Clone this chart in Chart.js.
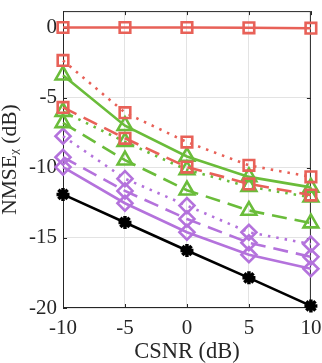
<!DOCTYPE html>
<html><head><meta charset="utf-8">
<script src="https://cdn.jsdelivr.net/npm/chart.js@4.4.1/dist/chart.umd.min.js"></script>
<style>html,body{margin:0;padding:0;background:#fff}</style>
</head><body>
<canvas id="c" width="322" height="363"></canvas>
<script>
// ---- data ----
const csnr = [-10, -5, 0, 5, 10];
const xTicks = [-10, -5, 0, 5, 10];
const yTicks = [-20, -15, -10, -5, 0];
const redSolid     = [0, 0, 0, -0.02, -0.05];
const redDotted    = [-2.35, -6.07, -8.17, -9.83, -10.65];
const redDashed    = [-5.7, -7.9, -9.95, -11.15, -11.95];
const greenSolid   = [-3.4, -7.0, -9.2, -10.65, -11.4];
const greenDotted  = [-6.0, -8.15, -10.15, -11.35, -12.1];
const greenDashed  = [-6.8, -9.46, -11.6, -13.05, -13.95];
const purpleDotted = [-7.75, -10.78, -12.7, -14.6, -15.45];
const purpleDashed = [-9.25, -11.65, -13.65, -15.35, -16.35];
const purpleSolid  = [-9.95, -12.53, -14.6, -16.2, -17.2];
const blackSolid   = [-11.9, -13.9, -15.9, -17.85, -19.85];

const RED = 'rgb(232,97,88)', GREEN = 'rgb(106,188,58)', PURPLE = 'rgb(180,114,220)', BLACK = '#000';
const DOT = [2.5, 6], DASH = [15, 8];
const FONT = "'Liberation Serif','DejaVu Serif',serif";

function ds(label, vals, color, dash, style, r) {
  return {
    label, data: csnr.map((x, i) => ({x, y: vals[i]})),
    borderColor: color, backgroundColor: style === 'star' ? color : 'rgba(0,0,0,0)',
    borderWidth: 2.6, borderDash: dash, pointStyle: style, pointRadius: r,
    pointBorderWidth: style === 'star' ? 3.5 : 2.6, pointBorderColor: color,
    pointBackgroundColor: 'rgba(0,0,0,0)', tension: 0, clip: false, fill: false
  };
}

const datasets = [
  ds('red solid', redSolid, RED, [], 'rect', 7.5),
  ds('red dotted', redDotted, RED, DOT, 'rect', 7.5),
  ds('red dashed', redDashed, RED, DASH, 'rect', 7.5),
  ds('green solid', greenSolid, GREEN, [], 'triangle', 8.5),
  ds('green dotted', greenDotted, GREEN, DOT, 'triangle', 8.5),
  ds('green dashed', greenDashed, GREEN, DASH, 'triangle', 8.5),
  ds('purple dotted', purpleDotted, PURPLE, DOT, 'rectRot', 7.5),
  ds('purple dashed', purpleDashed, PURPLE, DASH, 'rectRot', 7.5),
  ds('purple solid', purpleSolid, PURPLE, [], 'rectRot', 7.5),
  ds('black solid', blackSolid, BLACK, [], 'star', 6.5)
];

const boxPlugin = {
  id: 'box',
  beforeDatasetsDraw(chart) {
    const {ctx, chartArea: a, scales} = chart;
    ctx.save();
    ctx.strokeStyle = '#262626'; ctx.lineWidth = 1;
    ctx.strokeRect(a.left + 0.5, a.top + 0.5, a.right - a.left - 1, a.bottom - a.top - 1);
    ctx.beginPath();
    xTicks.forEach(v => {
      const px = Math.round(scales.x.getPixelForValue(v)) + 0.5;
      ctx.moveTo(px, a.bottom); ctx.lineTo(px, a.bottom - 4);
      ctx.moveTo(px, a.top); ctx.lineTo(px, a.top + 4);
    });
    yTicks.forEach(v => {
      const py = Math.round(scales.y.getPixelForValue(v)) + 0.5;
      ctx.moveTo(a.left, py); ctx.lineTo(a.left + 4, py);
      ctx.moveTo(a.right, py); ctx.lineTo(a.right - 4, py);
    });
    ctx.stroke();
    ctx.restore();
  }
};

new Chart(document.getElementById('c'), {
  type: 'line',
  data: {datasets},
  options: {
    responsive: false, animation: false,
    layout: {padding: {top: 6, right: 11, left: 0, bottom: 0}},
    plugins: {legend: {display: false}, tooltip: {enabled: false}},
    scales: {
      x: {
        type: 'linear', min: -10, max: 10,
        afterBuildTicks: s => { s.ticks = xTicks.map(v => ({value: v})); },
        afterFit: s => { s.height = 55; s.paddingLeft = 0; s.paddingRight = 0; },
        grid: {color: '#e3e3e3', lineWidth: 1, drawTicks: false},
        border: {display: false},
        ticks: {padding: 10, color: '#262626', font: {family: FONT, size: 21, lineHeight: 1}, maxRotation: 0},
        title: {display: true, text: 'CSNR (dB)', color: '#262626', padding: 0, font: {family: FONT, size: 22.5, lineHeight: 1}}
      },
      y: {
        type: 'linear', min: -20, max: 1.17,
        afterBuildTicks: s => { s.ticks = yTicks.map(v => ({value: v})); },
        afterFit: s => { s.width = 63; s.paddingTop = 0; s.paddingBottom = 0; },
        grid: {color: '#e3e3e3', lineWidth: 1, drawTicks: false},
        border: {display: false},
        ticks: {padding: 6, color: '#262626', font: {family: FONT, size: 21, lineHeight: 1}},
        title: {display: true, text: 'NMSE\u1D6A (dB)', color: '#262626', padding: 0, font: {family: FONT, size: 21.5, lineHeight: 1}}
      }
    }
  },
  plugins: [boxPlugin]
});
</script>
</body></html>
